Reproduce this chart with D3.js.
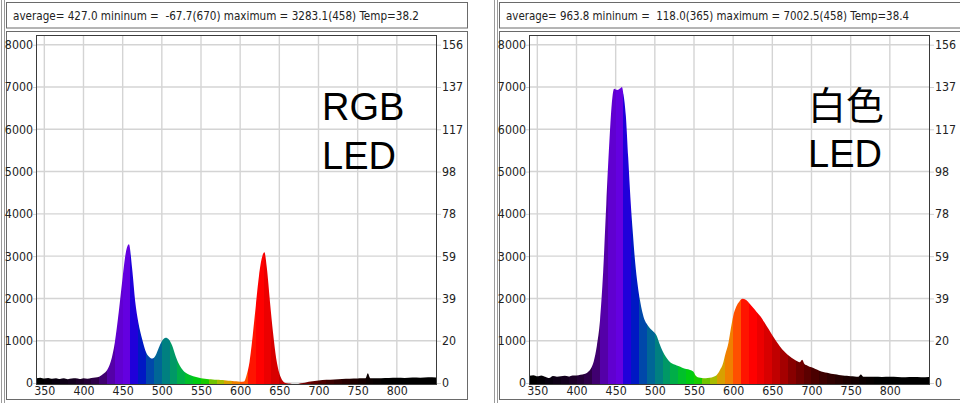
<!DOCTYPE html>
<html>
<head>
<meta charset="utf-8">
<script src="https://cdn.jsdelivr.net/npm/d3@7"></script>
<style>
body{margin:0;background:#fff;}
svg{display:block;}
.lbl{font-family:"Liberation Sans Narrow","DejaVu Sans Condensed",sans-serif;font-size:12.3px;fill:#222;}
</style>
</head>
<body>
<svg id="plot"></svg>
<script>
const width = 960;
const height = 403;

// RGB LED spectrum: wavelength (nm) and counts
const rgbWl = [340,345,350,355,360,365,370,375,380,385,390,395,400,405,410,415,420,425,430,435,440,445,450,454,458,462,466,470,475,480,485,488,492,496,500,505,509,513,517,521,525,530,535,540,545,550,555,560,565,570,575,580,585,590,595,600,605,608,612,616,620,624,628,631,634,638,642,646,650,654,658,665,670,675,680,685,690,695,700,710,720,730,740,750,755,760,763,766,770,780,790,800,810,820,830,840,850];
const rgbVal = [110,125,105,120,100,115,95,110,90,105,110,95,115,100,120,130,150,210,300,520,960,1680,2500,3080,3283,2720,1930,1430,1030,720,600,580,650,830,990,1070,1030,890,670,480,350,250,195,160,135,115,100,90,85,75,70,65,55,50,40,30,35,170,500,1120,1830,2530,2980,3090,2730,1930,1180,580,230,60,0,-20,-60,-20,0,20,35,50,60,75,85,95,100,105,110,110,230,115,110,115,120,125,120,130,125,135,130];

// white LED spectrum: wavelength (nm) and counts
const whiteWl = [340,345,350,355,360,365,370,375,380,385,390,395,400,405,410,414,418,422,426,430,434,438,442,445,448,452,456,458,460,463,466,469,472,475,478,481,484,487,490,494,498,502,506,510,514,518,522,526,530,535,540,545,549,552,556,560,565,570,575,579,583,587,590,594,597,600,604,608,612,616,620,625,630,635,640,645,650,655,660,665,670,675,680,685,688,691,695,700,705,710,715,720,725,730,735,740,745,750,755,760,763,766,770,780,790,800,810,820,830,840,850];
const whiteVal = [170,185,160,180,150,118,165,150,160,170,155,180,175,195,215,250,330,510,880,1480,2620,4220,5720,6600,6960,6930,6970,7002,6820,6320,5330,4330,3530,2830,2330,1960,1680,1490,1390,1290,1220,1130,930,750,620,520,460,430,400,360,330,310,270,180,130,120,115,125,150,190,300,460,680,950,1280,1580,1810,1930,1990,1970,1900,1790,1680,1570,1430,1280,1130,990,860,750,660,590,530,490,550,450,410,370,330,290,260,240,220,205,190,180,170,160,155,150,200,150,145,145,140,145,140,135,140,135,140];

const xTicks = [350,400,450,500,550,600,650,700,750,800];
const yTicks = [0,1000,2000,3000,4000,5000,6000,7000,8000];
const yRightLabels = ['0','20','39','59','78','98','117','137','156'];

const headers = [
  'average= 427.0 mininum =  -67.7(670) maximum = 3283.1(458) Temp=38.2',
  'average= 963.8 mininum =  118.0(365) maximum = 7002.5(458) Temp=38.4'
];
const titles = [['RGB','LED'], ['白色','LED']];

// colour of each 10 nm band, first band starts at 340 nm
const bandStart = 340;
const bandColors = [
  '#000000','#040006','#08000e','#0e0016','#14001e','#1c0028','#240036','#2e0048',
  '#400070','#5400a8','#6000d0','#6400e0','#2000da','#0018c4','#0048aa','#006696',
  '#008080','#009866','#00ae48','#00c02a','#00cc10','#18cc00','#70c400','#a8bc00',
  '#d8a000','#f08000','#ff5000','#ff1400','#ff0000','#ec0000','#d80000','#c00000',
  '#a40000','#880000','#700000','#5c0000','#4a0000','#3c0000','#300000','#260000',
  '#1c0000','#140000','#0c0000','#060000','#000000','#000000','#000000','#000000',
  '#000000','#000000','#000000'
];

let svg;
let sx, sy;

const panelX = [0, 493];
const headerLen = [406, 403];
const titleX = [322, 315];
const frame = {left: 36, right: 436, top: 35, bottom: 384};


function main(){
  initSvg();
  initScales();
  drawPanel(0, rgbWl, rgbVal);
  drawPanel(1, whiteWl, whiteVal);
}


function initSvg(){
  svg = d3.select('svg#plot')
  .attr('width', width)
  .attr('height', height);
}


function initScales(){
  sx = d3.scaleLinear()
  .domain([340, 850])
  .range([36.5, 436]);

  sy = d3.scaleLinear()
  .domain([0, 8000])
  .range([383, 44.7]);
}


function drawPanel(k, wl, val){
  let g = svg.append('g')
  .attr('transform', `translate(${panelX[k]},0)`);

  // window borders
  g.selectAll('.edge')
  .data([1.5, 4.5])
  .enter()
  .append('line')
  .attr('x1', d=>d).attr('x2', d=>d)
  .attr('y1', 0).attr('y2', height)
  .attr('stroke', '#9a9a9a');

  g.append('rect')
  .attr('x', 6.5).attr('y', 2.5)
  .attr('width', 461).attr('height', 25.5)
  .attr('fill', 'none')
  .attr('stroke', '#6a6a6a');

  g.append('text')
  .attr('class', 'lbl')
  .attr('x', 13).attr('y', 20)
  .attr('textLength', headerLen[k])
  .attr('lengthAdjust', 'spacingAndGlyphs')
  .style('white-space', 'pre')
  .text(headers[k]);

  g.append('rect')
  .attr('x', 6.5).attr('y', 31.5)
  .attr('width', 461).attr('height', 368)
  .attr('fill', 'none')
  .attr('stroke', '#6a6a6a');

  // grid
  g.selectAll('.vgrid')
  .data(xTicks)
  .enter()
  .append('line')
  .attr('x1', d=>sx(d)).attr('x2', d=>sx(d))
  .attr('y1', frame.top).attr('y2', frame.bottom)
  .attr('stroke', '#d4d4d4')
  .attr('stroke-width', 1.4);

  g.selectAll('.hgrid')
  .data(yTicks)
  .enter()
  .append('line')
  .attr('x1', frame.left).attr('x2', frame.right)
  .attr('y1', d=>sy(d)).attr('y2', d=>sy(d))
  .attr('stroke', '#d4d4d4')
  .attr('stroke-width', 1.4);

  // spectrum colours as a hard-stop gradient
  let x1 = sx(bandStart), x2 = sx(850);
  let grad = svg.append('defs').append('linearGradient')
  .attr('id', 'spec' + k)
  .attr('gradientUnits', 'userSpaceOnUse')
  .attr('x1', x1).attr('x2', x2)
  .attr('y1', 0).attr('y2', 0);

  bandColors.forEach((c,i)=>{
    let a = (sx(bandStart + i*10) - x1) / (x2 - x1);
    let b = (sx(bandStart + (i+1)*10) - x1) / (x2 - x1);
    grad.append('stop').attr('offset', Math.max(0, a)).attr('stop-color', c);
    grad.append('stop').attr('offset', Math.min(1, b)).attr('stop-color', c);
  });

  svg.select('defs').append('clipPath')
  .attr('id', 'clip' + k)
  .append('rect')
  .attr('x', frame.left).attr('y', frame.top)
  .attr('width', frame.right - frame.left)
  .attr('height', frame.bottom - frame.top);

  let pts = wl.map((d,i)=>[d, val[i]]);
  let area = d3.area()
  .x(d=>sx(d[0]))
  .y0(frame.bottom)
  .y1(d=>sy(d[1]))
  .curve(d3.curveMonotoneX);

  g.append('path')
  .datum(pts)
  .attr('d', area)
  .attr('fill', `url(#spec${k})`)
  .attr('clip-path', `url(#clip${k})`);

  g.append('rect')
  .attr('x', frame.left + 0.5).attr('y', frame.top + 0.5)
  .attr('width', frame.right - frame.left)
  .attr('height', frame.bottom - frame.top)
  .attr('fill', 'none')
  .attr('stroke', '#3a3a3a');

  // axes
  let yLeft = g.append('g')
  .attr('transform', `translate(${frame.left},0)`)
  .call(d3.axisLeft(sy).tickValues(yTicks).tickSize(3).tickPadding(0)
    .tickFormat(d3.format('d')));

  let yRight = g.append('g')
  .attr('transform', `translate(${frame.right + 1},0)`)
  .call(d3.axisRight(sy).tickValues(yTicks).tickSize(4).tickPadding(1)
    .tickFormat((d,i)=>yRightLabels[i]));

  let xAxis = g.append('g')
  .attr('transform', `translate(0,${frame.bottom})`)
  .call(d3.axisBottom(sx).tickValues(xTicks).tickSize(0).tickPadding(2));

  [yLeft, yRight, xAxis].forEach(ax=>{
    ax.select('.domain').remove();
    ax.selectAll('line').attr('stroke', '#cfcfcf');
    ax.selectAll('text')
    .attr('class', 'lbl')
    .attr('fill', null);
    ax.attr('font-family', null).attr('font-size', null);
  });

  // big label
  g.selectAll('.title')
  .data(titles[k])
  .enter()
  .append('text')
  .attr('x', titleX[k])
  .attr('y', (d,i)=>[120, 169][i] - (k==1 && i==0 ? 1 : 0) - (k==1 && i==1 ? 2 : 0))
  .attr('font-family', d=>/[\u4e00-\u9fff]/.test(d) ? '"Noto Sans CJK JP"' : '"Liberation Sans", Arial, sans-serif')
  .attr('font-size', 38)
  .attr('fill', '#000')
  .text(d=>d);
}


document.addEventListener('DOMContentLoaded', main);
</script>
</body>
</html>
